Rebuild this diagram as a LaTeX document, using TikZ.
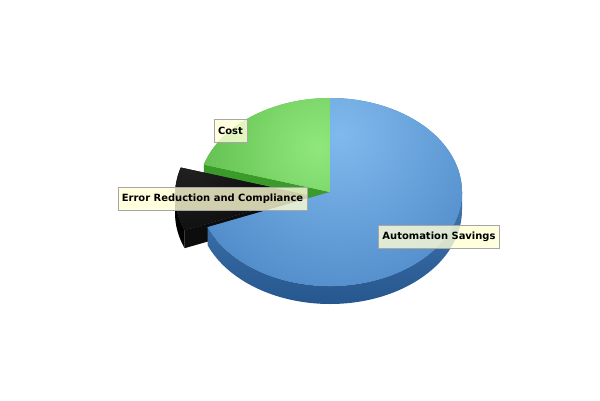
\documentclass[tikz,border=0pt]{standalone}
\usepackage{fontspec}
\setmainfont{DejaVu Sans}
\definecolor{blueLight}{HTML}{80B9EC}
\definecolor{blueDark}{HTML}{3A76BA}
\definecolor{blueSide}{HTML}{2D66A7}
\definecolor{greenLight}{HTML}{90E87C}
\definecolor{greenDark}{HTML}{58B646}
\definecolor{greenSide}{HTML}{3A9A2A}
\definecolor{blackLight}{HTML}{222222}
\definecolor{blackDark}{HTML}{0C0C0C}
\definecolor{labelFill}{HTML}{FFFFD6}

\begin{document}
\begin{tikzpicture}[x=1bp, y=1bp,
				declare function = {
						RX = 132;
						RY = 94;
						D  = 18;
						AG = 163;
						AB = 202;
					},
				label box/.style = {draw=gray!70, fill=labelFill, fill opacity=0.8, text opacity=1,
						font=\bfseries\fontsize{10}{11}\selectfont, inner xsep=4bp, inner ysep=0pt,
						minimum height=23bp},
			]
			\path[use as bounding box] (0,0) rectangle (600,400);
			\coordinate (C) at (330,208);
			\coordinate (K) at ([shift={(-23bp,-3bp)}]C);
			% green cut face
			\fill[greenSide] (C) -- ++({AG}:{RX} and {RY}) -- ++(0,-D) -- ++({-RX*cos(AG)},{-RY*sin(AG)}) -- cycle;
			% exploded black slice
			\fill[black!95] (K) -- ++({AB}:{RX} and {RY}) -- ++(0,-D) -- ++({-RX*cos(AB)},{-RY*sin(AB)}) -- cycle;
			\fill[black] (K) ++(180:{RX} and {RY}) arc[start angle=180, end angle=AB, x radius=RX, y radius=RY]
				-- ++(0,-D) arc[start angle=AB, end angle=180, x radius=RX, y radius=RY] -- cycle;
			\begin{scope}
				\clip (K) -- ++({AG}:{RX} and {RY}) arc[start angle=AG, end angle=AB, x radius=RX, y radius=RY] -- cycle;
				\fill[blackDark] (0,0) rectangle (600,400);
				\shade[inner color=blackLight, outer color=blackDark] (190,240) circle (90);
			\end{scope}
			% green top
			\begin{scope}
				\clip (C) -- ++(90:{RX} and {RY}) arc[start angle=90, end angle=AG, x radius=RX, y radius=RY] -- cycle;
				\fill[greenDark] (0,0) rectangle (600,400);
				\shade[inner color=greenLight, outer color=greenDark] (318,252) circle (150);
			\end{scope}
			% blue side and top
			\shade[top color=blueSide!90!white, bottom color=blueSide!85!black]
				(C) ++({AB}:{RX} and {RY}) arc[start angle=AB, end angle=360, x radius=RX, y radius=RY]
				-- ++(0,-D) arc[start angle=360, end angle=AB, x radius=RX, y radius=RY] -- cycle;
			\begin{scope}
				\clip (C) -- ++({AB}:{RX} and {RY}) arc[start angle=AB, end angle=450, x radius=RX, y radius=RY] -- cycle;
				\fill[blueDark] (0,0) rectangle (600,400);
				\shade[inner color=blueLight, outer color=blueDark] (340,265) circle (250);
			\end{scope}
			% labels
			\node[label box] (cost) at (230.5,269.5) {Cost};
			\node[label box] (error) at (212.5,201.5) {Error Reduction and Compliance};
			\node[label box] (auto) at (439,163.5) {Automation Savings};
		\end{tikzpicture}
\end{document}
